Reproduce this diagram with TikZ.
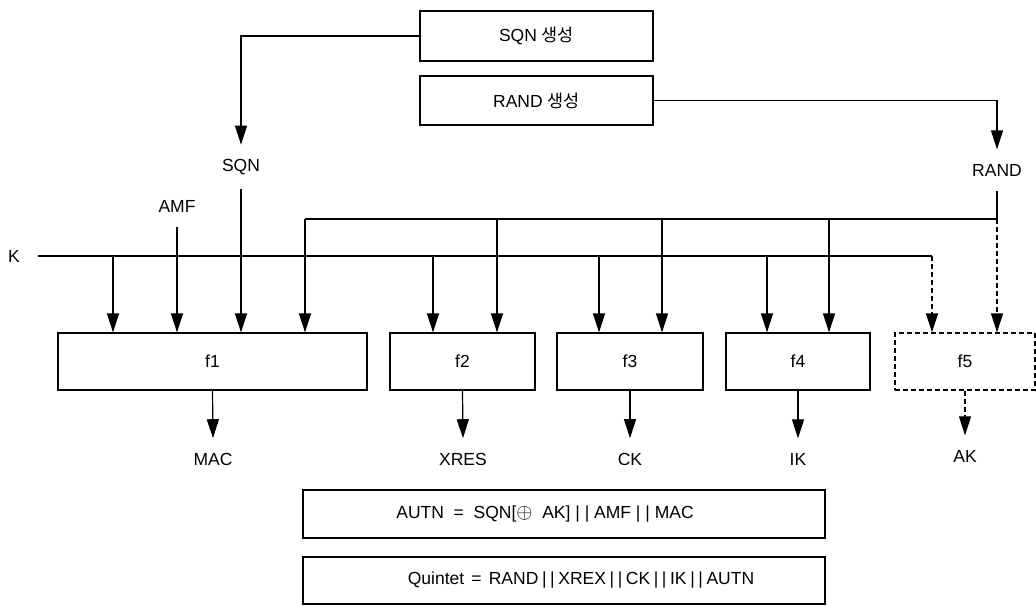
\documentclass[tikz,border=0pt]{standalone}
\usepackage{fontspec}
\setmainfont{Liberation Sans}
\newfontfamily\kr{Noto Sans CJK KR}
\usetikzlibrary{arrows.meta}

\begin{document}
\begin{tikzpicture}[x=1pt, y=-1pt, line width=1.2pt,
        font=\fontsize{17.5}{20}\selectfont,
        box/.style={draw, rectangle, inner sep=0pt},
        dbox/.style={box, dash pattern=on 5pt off 3pt},
        arr/.style={-{Triangle[length=19pt,width=12pt]}},
        darr/.style={arr, dash pattern=on 5pt off 3pt},
        lbl/.style={inner xsep=2pt, inner ysep=14pt}]
        \useasboundingbox (0,0) rectangle (1036,608);

        % Define nodes
        \node[box, minimum width=233pt, minimum height=50pt] (sqngen) at (536.5,36) {SQN {\kr 생성}};
        \node[box, minimum width=233pt, minimum height=49pt] (randgen) at (536.5,100.5) {RAND {\kr 생성}};
        \node[lbl] (sqn) at (241,167) {SQN};
        \node[lbl] (rand) at (997,170) {RAND};
        \node[lbl] (amf) at (177,206) {AMF};
        \node[lbl] (k) at (14,256) {K};

        \node[box, minimum width=309pt, minimum height=57pt] (f1) at (212.5,361.5) {f1};
        \node[box, minimum width=145pt, minimum height=57pt] (f2) at (462.5,361.5) {f2};
        \node[box, minimum width=146pt, minimum height=57pt] (f3) at (630,361.5) {f3};
        \node[box, minimum width=144pt, minimum height=57pt] (f4) at (798,361.5) {f4};
        \node[dbox, minimum width=140pt, minimum height=57pt] (f5) at (965,361.5) {f5};

        \node[lbl] (mac) at (213,459) {MAC};
        \node[lbl] (xres) at (463,459) {XRES};
        \node[lbl] (ck) at (630,459) {CK};
        \node[lbl] (ik) at (798,459) {IK};
        \node[lbl] (ak) at (965,456) {AK};

        \node[box, minimum width=522pt, minimum height=48pt] (autn) at (564,514)
            {AUTN\ \ =\ \ SQN[{\fontsize{22}{22}\selectfont$\oplus$}\ \ AK]\ |\ |\ AMF\ |\ |\ MAC\hspace*{38pt}};
        \node[box, minimum width=522pt, minimum height=47pt] (quintet) at (564,580.5)
            {\hspace*{34pt}\spaceskip=3.6pt Quintet\ \ =\ \ RAND\ |\ |\ XREX\ |\ |\ CK\ |\ |\ IK\ |\ |\ AUTN};

        % Draw edges
        \draw[arr] (sqngen.west) -| (sqn.north);
        \draw[arr] (randgen.east) -| (rand.north);
        \draw[arr] (sqn.south) -- (sqn.south |- f1.north);
        \draw[arr] (amf.south) -- (amf.south |- f1.north);

        % RAND line
        \coordinate (rR) at (997,219);
        \coordinate (rL) at (305,219);
        \draw (rand.south) -- (rR) -- (rL);
        \draw[arr] (rL) -- (rL |- f1.north);
        \foreach \x/\f in {497/f2, 662/f3, 829/f4} {
            \coordinate (r\f) at (\x,219);
            \draw[arr] (r\f) -- (r\f |- \f.north);
        }
        \draw[darr] (rR) -- (rR |- f5.north);

        % K line
        \coordinate (kR) at (932,256);
        \draw[shorten <=16pt] (k.east) -- (kR);
        \foreach \x/\f in {113/f1, 433/f2, 599/f3, 767/f4} {
            \coordinate (k\f) at (\x,256);
            \draw[arr] (k\f) -- (k\f |- \f.north);
        }
        \draw[darr] (kR) -- (kR |- f5.north);

        % outputs
        \foreach \f/\o in {f1/mac, f2/xres, f3/ck, f4/ik}
            \draw[arr] (\f.south) -- (\o.north);
        \draw[darr] (f5.south) -- (ak.north);
    \end{tikzpicture}
\end{document}
